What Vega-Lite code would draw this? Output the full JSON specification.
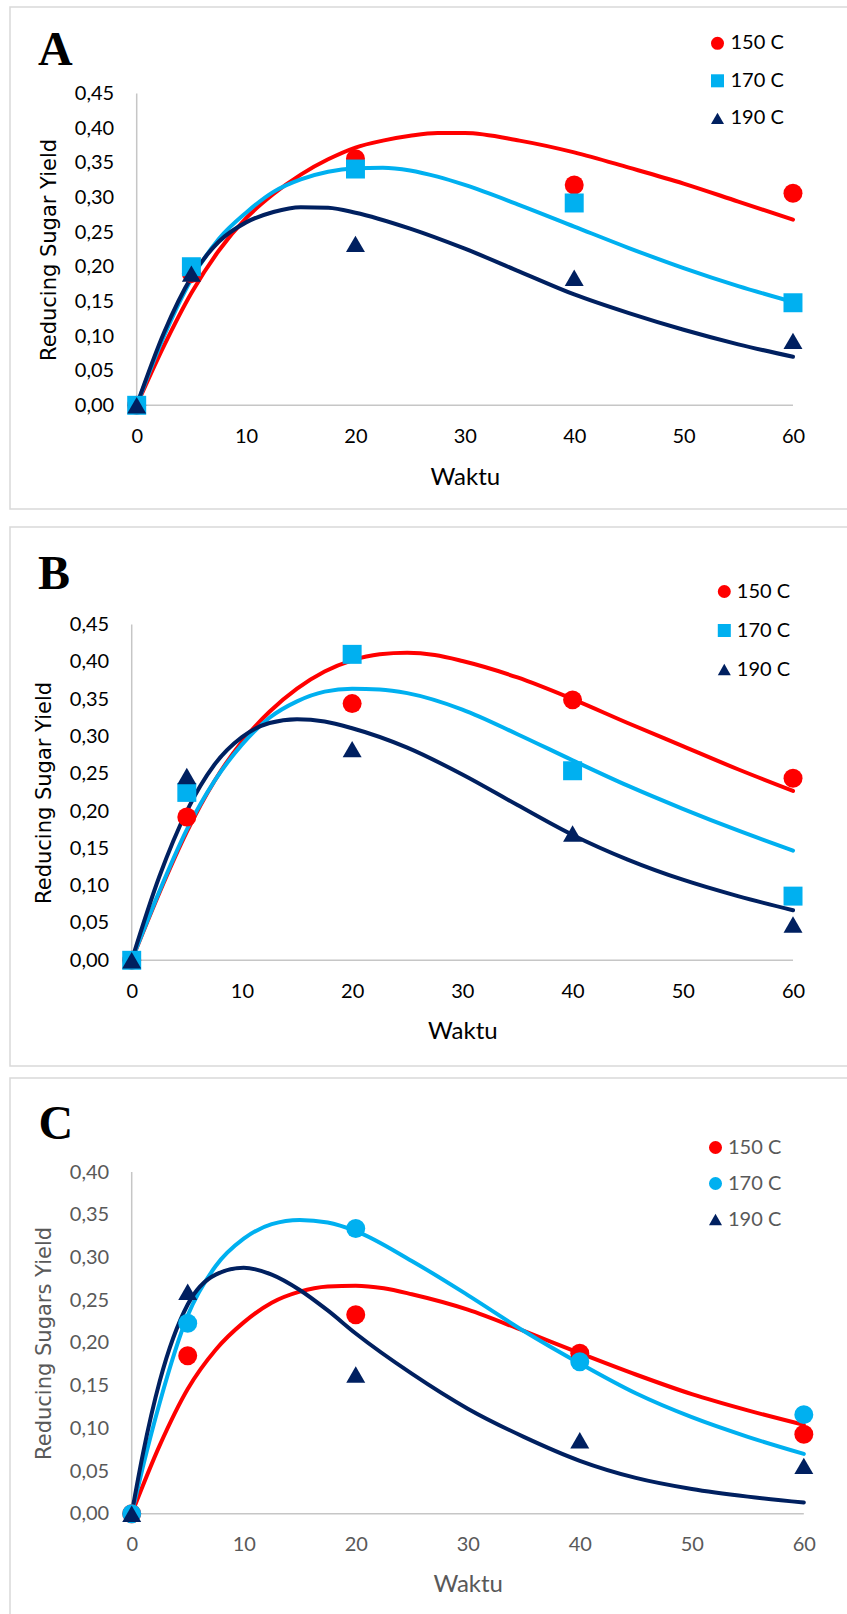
{
  "$schema": "https://vega.github.io/schema/vega-lite/v6.json",
  "padding": {"left": 9, "top": 6, "right": 0, "bottom": 0},
  "background": "white",
  "config": {
    "view": {"stroke": "#D9D9D9", "strokeWidth": 1.5},
    "axis": {"grid": false, "domain": false, "ticks": false, "labelFlush": false, "labelOverlap": false, "labelBound": false, "labelFont": "Lato", "labelFontSize": 20, "titleFontWeight": "normal"}
  },
  "datasets": {
    "pointsA": [
      {"series": "150 C", "x": 0, "y": 0}, {"series": "150 C", "x": 5, "y": 0.19}, {"series": "150 C", "x": 20, "y": 0.356}, {"series": "150 C", "x": 40, "y": 0.318}, {"series": "150 C", "x": 60, "y": 0.306},
      {"series": "170 C", "x": 0, "y": 0}, {"series": "170 C", "x": 5, "y": 0.2}, {"series": "170 C", "x": 20, "y": 0.341}, {"series": "170 C", "x": 40, "y": 0.292}, {"series": "170 C", "x": 60, "y": 0.148},
      {"series": "190 C", "x": 0, "y": 0}, {"series": "190 C", "x": 5, "y": 0.19}, {"series": "190 C", "x": 20, "y": 0.233}, {"series": "190 C", "x": 40, "y": 0.184}, {"series": "190 C", "x": 60, "y": 0.093}
    ],
    "curvesA": [
      {"series": "150 C", "x": 0, "y": 0}, {"series": "150 C", "x": 2.5, "y": 0.086}, {"series": "150 C", "x": 5, "y": 0.162}, {"series": "150 C", "x": 7.5, "y": 0.223}, {"series": "150 C", "x": 10, "y": 0.27}, {"series": "150 C", "x": 12.5, "y": 0.305}, {"series": "150 C", "x": 15, "y": 0.333}, {"series": "150 C", "x": 17.5, "y": 0.355}, {"series": "150 C", "x": 20, "y": 0.372}, {"series": "150 C", "x": 22.5, "y": 0.382}, {"series": "150 C", "x": 25, "y": 0.389}, {"series": "150 C", "x": 27.5, "y": 0.393}, {"series": "150 C", "x": 30, "y": 0.393}, {"series": "150 C", "x": 35, "y": 0.382}, {"series": "150 C", "x": 40, "y": 0.365}, {"series": "150 C", "x": 45, "y": 0.343}, {"series": "150 C", "x": 50, "y": 0.32}, {"series": "150 C", "x": 55, "y": 0.294}, {"series": "150 C", "x": 60, "y": 0.268},
      {"series": "170 C", "x": 0, "y": 0}, {"series": "170 C", "x": 2.5, "y": 0.1}, {"series": "170 C", "x": 5, "y": 0.182}, {"series": "170 C", "x": 7.5, "y": 0.24}, {"series": "170 C", "x": 10, "y": 0.278}, {"series": "170 C", "x": 12.5, "y": 0.308}, {"series": "170 C", "x": 15, "y": 0.326}, {"series": "170 C", "x": 17.5, "y": 0.337}, {"series": "170 C", "x": 20, "y": 0.342}, {"series": "170 C", "x": 22.5, "y": 0.343}, {"series": "170 C", "x": 25, "y": 0.339}, {"series": "170 C", "x": 27.5, "y": 0.33}, {"series": "170 C", "x": 30, "y": 0.318}, {"series": "170 C", "x": 35, "y": 0.289}, {"series": "170 C", "x": 40, "y": 0.258}, {"series": "170 C", "x": 45, "y": 0.227}, {"series": "170 C", "x": 50, "y": 0.198}, {"series": "170 C", "x": 55, "y": 0.172}, {"series": "170 C", "x": 60, "y": 0.149},
      {"series": "190 C", "x": 0, "y": 0}, {"series": "190 C", "x": 2.5, "y": 0.105}, {"series": "190 C", "x": 5, "y": 0.185}, {"series": "190 C", "x": 7.5, "y": 0.236}, {"series": "190 C", "x": 10, "y": 0.264}, {"series": "190 C", "x": 12.5, "y": 0.279}, {"series": "190 C", "x": 15, "y": 0.286}, {"series": "190 C", "x": 17.5, "y": 0.285}, {"series": "190 C", "x": 20, "y": 0.278}, {"series": "190 C", "x": 25, "y": 0.255}, {"series": "190 C", "x": 30, "y": 0.226}, {"series": "190 C", "x": 35, "y": 0.193}, {"series": "190 C", "x": 40, "y": 0.16}, {"series": "190 C", "x": 45, "y": 0.133}, {"series": "190 C", "x": 50, "y": 0.109}, {"series": "190 C", "x": 55, "y": 0.088}, {"series": "190 C", "x": 60, "y": 0.07}
    ],
    "pointsB": [
      {"series": "150 C", "x": 0, "y": 0}, {"series": "150 C", "x": 5, "y": 0.192}, {"series": "150 C", "x": 20, "y": 0.344}, {"series": "150 C", "x": 40, "y": 0.349}, {"series": "150 C", "x": 60, "y": 0.244},
      {"series": "170 C", "x": 0, "y": 0}, {"series": "170 C", "x": 5, "y": 0.225}, {"series": "170 C", "x": 20, "y": 0.41}, {"series": "170 C", "x": 40, "y": 0.254}, {"series": "170 C", "x": 60, "y": 0.086},
      {"series": "190 C", "x": 0, "y": 0}, {"series": "190 C", "x": 5, "y": 0.247}, {"series": "190 C", "x": 20, "y": 0.283}, {"series": "190 C", "x": 40, "y": 0.17}, {"series": "190 C", "x": 60, "y": 0.048}
    ],
    "curvesB": [
      {"series": "150 C", "x": 0, "y": 0}, {"series": "150 C", "x": 2.5, "y": 0.09}, {"series": "150 C", "x": 5, "y": 0.172}, {"series": "150 C", "x": 7.5, "y": 0.24}, {"series": "150 C", "x": 10, "y": 0.293}, {"series": "150 C", "x": 12.5, "y": 0.333}, {"series": "150 C", "x": 15, "y": 0.364}, {"series": "150 C", "x": 17.5, "y": 0.387}, {"series": "150 C", "x": 20, "y": 0.402}, {"series": "150 C", "x": 22.5, "y": 0.41}, {"series": "150 C", "x": 25, "y": 0.412}, {"series": "150 C", "x": 27.5, "y": 0.409}, {"series": "150 C", "x": 30, "y": 0.401}, {"series": "150 C", "x": 35, "y": 0.379}, {"series": "150 C", "x": 40, "y": 0.35}, {"series": "150 C", "x": 45, "y": 0.318}, {"series": "150 C", "x": 50, "y": 0.287}, {"series": "150 C", "x": 55, "y": 0.256}, {"series": "150 C", "x": 60, "y": 0.227},
      {"series": "170 C", "x": 0, "y": 0}, {"series": "170 C", "x": 2.5, "y": 0.092}, {"series": "170 C", "x": 5, "y": 0.175}, {"series": "170 C", "x": 7.5, "y": 0.24}, {"series": "170 C", "x": 10, "y": 0.289}, {"series": "170 C", "x": 12.5, "y": 0.325}, {"series": "170 C", "x": 15, "y": 0.347}, {"series": "170 C", "x": 17.5, "y": 0.36}, {"series": "170 C", "x": 20, "y": 0.364}, {"series": "170 C", "x": 22.5, "y": 0.363}, {"series": "170 C", "x": 25, "y": 0.358}, {"series": "170 C", "x": 30, "y": 0.336}, {"series": "170 C", "x": 35, "y": 0.303}, {"series": "170 C", "x": 40, "y": 0.268}, {"series": "170 C", "x": 45, "y": 0.234}, {"series": "170 C", "x": 50, "y": 0.203}, {"series": "170 C", "x": 55, "y": 0.174}, {"series": "170 C", "x": 60, "y": 0.147},
      {"series": "190 C", "x": 0, "y": 0}, {"series": "190 C", "x": 2.5, "y": 0.112}, {"series": "190 C", "x": 5, "y": 0.2}, {"series": "190 C", "x": 7.5, "y": 0.262}, {"series": "190 C", "x": 10, "y": 0.299}, {"series": "190 C", "x": 12.5, "y": 0.318}, {"series": "190 C", "x": 15, "y": 0.323}, {"series": "190 C", "x": 17.5, "y": 0.32}, {"series": "190 C", "x": 20, "y": 0.311}, {"series": "190 C", "x": 25, "y": 0.285}, {"series": "190 C", "x": 30, "y": 0.249}, {"series": "190 C", "x": 35, "y": 0.208}, {"series": "190 C", "x": 40, "y": 0.168}, {"series": "190 C", "x": 45, "y": 0.135}, {"series": "190 C", "x": 50, "y": 0.108}, {"series": "190 C", "x": 55, "y": 0.086}, {"series": "190 C", "x": 60, "y": 0.067}
    ],
    "pointsC": [
      {"series": "150 C", "x": 0, "y": 0}, {"series": "150 C", "x": 5, "y": 0.185}, {"series": "150 C", "x": 20, "y": 0.233}, {"series": "150 C", "x": 40, "y": 0.188}, {"series": "150 C", "x": 60, "y": 0.093},
      {"series": "170 C", "x": 0, "y": 0}, {"series": "170 C", "x": 5, "y": 0.223}, {"series": "170 C", "x": 20, "y": 0.334}, {"series": "170 C", "x": 40, "y": 0.178}, {"series": "170 C", "x": 60, "y": 0.116},
      {"series": "190 C", "x": 0, "y": 0}, {"series": "190 C", "x": 5, "y": 0.26}, {"series": "190 C", "x": 20, "y": 0.163}, {"series": "190 C", "x": 40, "y": 0.086}, {"series": "190 C", "x": 60, "y": 0.056}
    ],
    "curvesC": [
      {"series": "150 C", "x": 0, "y": 0}, {"series": "150 C", "x": 2.5, "y": 0.08}, {"series": "150 C", "x": 5, "y": 0.146}, {"series": "150 C", "x": 7.5, "y": 0.192}, {"series": "150 C", "x": 10, "y": 0.224}, {"series": "150 C", "x": 12.5, "y": 0.247}, {"series": "150 C", "x": 15, "y": 0.26}, {"series": "150 C", "x": 17.5, "y": 0.266}, {"series": "150 C", "x": 20, "y": 0.267}, {"series": "150 C", "x": 22.5, "y": 0.264}, {"series": "150 C", "x": 25, "y": 0.257}, {"series": "150 C", "x": 30, "y": 0.239}, {"series": "150 C", "x": 35, "y": 0.214}, {"series": "150 C", "x": 40, "y": 0.188}, {"series": "150 C", "x": 45, "y": 0.163}, {"series": "150 C", "x": 50, "y": 0.14}, {"series": "150 C", "x": 55, "y": 0.121}, {"series": "150 C", "x": 60, "y": 0.104},
      {"series": "170 C", "x": 0, "y": 0}, {"series": "170 C", "x": 1, "y": 0.055}, {"series": "170 C", "x": 2.5, "y": 0.13}, {"series": "170 C", "x": 5, "y": 0.232}, {"series": "170 C", "x": 7.5, "y": 0.29}, {"series": "170 C", "x": 10, "y": 0.322}, {"series": "170 C", "x": 12.5, "y": 0.339}, {"series": "170 C", "x": 15, "y": 0.344}, {"series": "170 C", "x": 17.5, "y": 0.341}, {"series": "170 C", "x": 20, "y": 0.331}, {"series": "170 C", "x": 25, "y": 0.296}, {"series": "170 C", "x": 30, "y": 0.256}, {"series": "170 C", "x": 35, "y": 0.214}, {"series": "170 C", "x": 40, "y": 0.176}, {"series": "170 C", "x": 45, "y": 0.141}, {"series": "170 C", "x": 50, "y": 0.113}, {"series": "170 C", "x": 55, "y": 0.09}, {"series": "170 C", "x": 60, "y": 0.07},
      {"series": "190 C", "x": 0, "y": 0}, {"series": "190 C", "x": 1, "y": 0.07}, {"series": "190 C", "x": 2.5, "y": 0.155}, {"series": "190 C", "x": 5, "y": 0.245}, {"series": "190 C", "x": 7.5, "y": 0.28}, {"series": "190 C", "x": 10, "y": 0.288}, {"series": "190 C", "x": 12.5, "y": 0.28}, {"series": "190 C", "x": 15, "y": 0.262}, {"series": "190 C", "x": 17.5, "y": 0.238}, {"series": "190 C", "x": 20, "y": 0.211}, {"series": "190 C", "x": 25, "y": 0.164}, {"series": "190 C", "x": 30, "y": 0.123}, {"series": "190 C", "x": 35, "y": 0.09}, {"series": "190 C", "x": 40, "y": 0.062}, {"series": "190 C", "x": 45, "y": 0.042}, {"series": "190 C", "x": 50, "y": 0.029}, {"series": "190 C", "x": 55, "y": 0.02}, {"series": "190 C", "x": 60, "y": 0.013}
    ]
  },
  "resolve": {"scale": {"x": "independent", "y": "independent", "color": "independent", "shape": "independent", "stroke": "independent"}},
  "spacing": 10,
  "vconcat": [
    {
      "resolve": {"scale": {"x": "independent", "y": "independent", "color": "independent", "shape": "independent", "stroke": "independent"}},
      "spacing": 16,
      "vconcat": [
        {
          "width": 838, "height": 502,
          "layer": [
            {"data": {"values": [{"x": 0, "y": 0, "y2": 0.45}]}, "mark": {"type": "rule", "color": "#C6C6C6", "strokeWidth": 1.5},
              "encoding": {"x": {"field": "x", "type": "quantitative"}, "y": {"field": "y", "type": "quantitative"}, "y2": {"field": "y2"}}},
            {"data": {"values": [{"x": 0, "x2": 60, "y": 0}]}, "mark": {"type": "rule", "color": "#C6C6C6", "strokeWidth": 1.5},
              "encoding": {"x": {"field": "x", "type": "quantitative"}, "y": {"field": "y", "type": "quantitative"}, "x2": {"field": "x2"}}},
            {"data": {"values": [{"panel": "A"}]}, "mark": {"type": "text", "align": "left", "baseline": "alphabetic", "font": "Liberation Serif", "fontWeight": "bold", "fontSize": 48, "fill": "#000000"},
              "encoding": {"x": {"datum": -9.023, "type": "quantitative"}, "y": {"datum": 0.49113, "type": "quantitative"}, "text": {"field": "panel", "type": "nominal"}}},
            {"data": {"name": "curvesA"}, "mark": {"type": "line", "interpolate": "monotone", "strokeCap": "round", "strokeWidth": 4},
              "encoding": {
                "x": {"field": "x", "type": "quantitative", "scale": {"domain": [-11.583, 65.03], "nice": false, "zero": false},
                  "axis": {"values": [0, 10, 20, 30, 40, 50, 60], "offset": -103.7, "labelPadding": 31, "labelBaseline": "middle", "labelColor": "#000000", "title": "Waktu", "titleX": 454.9, "titleY": 79, "titleBaseline": "alphabetic", "titleAlign": "center", "titleFont": "Lato", "titleFontSize": 24, "titleColor": "#000000"}},
                "y": {"field": "y", "type": "quantitative", "scale": {"domain": [-0.14966, 0.57484], "nice": false, "zero": false},
                  "axis": {"values": [0, 0.05, 0.1, 0.15, 0.2, 0.25, 0.3, 0.35, 0.4, 0.45], "offset": -126.7, "labelPadding": 23, "labelColor": "#000000", "labelExpr": "replace(format(datum.value, '.2f'), '.', ',')", "title": "Reducing Sugar Yield", "titleX": -87, "titleY": 242.4, "titleAngle": -90, "titleBaseline": "middle", "titleAlign": "center", "titleFont": "DejaVu Sans", "titleFontSize": 21, "titleColor": "#000000"}},
                "stroke": {"field": "series", "type": "nominal", "scale": {"range": ["#FF0000", "#00B0F0", "#002060"]}, "legend": null}
              }},
            {"data": {"name": "pointsA"}, "mark": {"type": "point", "filled": true, "size": 360, "opacity": 1, "strokeWidth": 0},
              "encoding": {
                "x": {"field": "x", "type": "quantitative"},
                "y": {"field": "y", "type": "quantitative"},
                "color": {"field": "series", "type": "nominal", "scale": {"domain": ["150 C", "170 C", "190 C"], "range": ["#FF0000", "#00B0F0", "#002060"]},
                  "legend": {"orient": "none", "legendX": 697.5, "legendY": 26.3, "title": null, "labelFont": "Lato", "labelFontSize": 20, "labelColor": "#000000", "symbolSize": 170, "symbolStrokeWidth": 0, "symbolOpacity": 1, "rowPadding": 17.5, "labelOffset": 3, "padding": 0}},
                "shape": {"field": "series", "type": "nominal", "scale": {"domain": ["150 C", "170 C", "190 C"], "range": ["circle", "square", "triangle-up"]},
                  "legend": {"orient": "none", "legendX": 697.5, "legendY": 26.3, "title": null, "labelFont": "Lato", "labelFontSize": 20, "labelColor": "#000000", "symbolSize": 170, "symbolStrokeWidth": 0, "symbolOpacity": 1, "rowPadding": 17.5, "labelOffset": 3, "padding": 0}}
              }}
          ]
        },
        {
          "width": 838, "height": 539,
          "layer": [
            {"data": {"values": [{"x": 0, "y": 0, "y2": 0.45}]}, "mark": {"type": "rule", "color": "#C6C6C6", "strokeWidth": 1.5},
              "encoding": {"x": {"field": "x", "type": "quantitative"}, "y": {"field": "y", "type": "quantitative"}, "y2": {"field": "y2"}}},
            {"data": {"values": [{"x": 0, "x2": 60, "y": 0}]}, "mark": {"type": "rule", "color": "#C6C6C6", "strokeWidth": 1.5},
              "encoding": {"x": {"field": "x", "type": "quantitative"}, "y": {"field": "y", "type": "quantitative"}, "x2": {"field": "x2"}}},
            {"data": {"values": [{"panel": "B"}]}, "mark": {"type": "text", "align": "left", "baseline": "alphabetic", "font": "Liberation Serif", "fontWeight": "bold", "fontSize": 48, "fill": "#000000"},
              "encoding": {"x": {"datum": -8.502, "type": "quantitative"}, "y": {"datum": 0.49784, "type": "quantitative"}, "text": {"field": "panel", "type": "nominal"}}},
            {"data": {"name": "curvesB"}, "mark": {"type": "line", "interpolate": "monotone", "strokeCap": "round", "strokeWidth": 4},
              "encoding": {
                "x": {"field": "x", "type": "quantitative", "scale": {"domain": [-11.042, 64.988], "nice": false, "zero": false},
                  "axis": {"values": [0, 10, 20, 30, 40, 50, 60], "offset": -105.7, "labelPadding": 31, "labelBaseline": "middle", "labelColor": "#000000", "title": "Waktu", "titleX": 452.4, "titleY": 78, "titleBaseline": "alphabetic", "titleAlign": "center", "titleFont": "Lato", "titleFontSize": 24, "titleColor": "#000000"}},
                "y": {"field": "y", "type": "quantitative", "scale": {"domain": [-0.14165, 0.58066], "nice": false, "zero": false},
                  "axis": {"values": [0, 0.05, 0.1, 0.15, 0.2, 0.25, 0.3, 0.35, 0.4, 0.45], "offset": -121.7, "labelPadding": 23, "labelColor": "#000000", "labelExpr": "replace(format(datum.value, '.2f'), '.', ',')", "title": "Reducing Sugar Yield", "titleX": -87.5, "titleY": 265.4, "titleAngle": -90, "titleBaseline": "middle", "titleAlign": "center", "titleFont": "DejaVu Sans", "titleFontSize": 21, "titleColor": "#000000"}},
                "stroke": {"field": "series", "type": "nominal", "scale": {"range": ["#FF0000", "#00B0F0", "#002060"]}, "legend": null}
              }},
            {"data": {"name": "pointsB"}, "mark": {"type": "point", "filled": true, "size": 360, "opacity": 1, "strokeWidth": 0},
              "encoding": {
                "x": {"field": "x", "type": "quantitative"},
                "y": {"field": "y", "type": "quantitative"},
                "color": {"field": "series", "type": "nominal", "scale": {"domain": ["150 C", "170 C", "190 C"], "range": ["#FF0000", "#00B0F0", "#002060"]},
                  "legend": {"orient": "none", "legendX": 704.3, "legendY": 54.5, "title": null, "labelFont": "Lato", "labelFontSize": 20, "labelColor": "#000000", "symbolSize": 170, "symbolStrokeWidth": 0, "symbolOpacity": 1, "rowPadding": 19, "labelOffset": 2.5, "padding": 0}},
                "shape": {"field": "series", "type": "nominal", "scale": {"domain": ["150 C", "170 C", "190 C"], "range": ["circle", "square", "triangle-up"]},
                  "legend": {"orient": "none", "legendX": 704.3, "legendY": 54.5, "title": null, "labelFont": "Lato", "labelFontSize": 20, "labelColor": "#000000", "symbolSize": 170, "symbolStrokeWidth": 0, "symbolOpacity": 1, "rowPadding": 19, "labelOffset": 2.5, "padding": 0}}
              }}
          ]
        }
      ]
    },
    {
      "width": 838, "height": 541,
      "layer": [
        {"data": {"values": [{"x": 0, "y": 0, "y2": 0.4}]}, "mark": {"type": "rule", "color": "#C6C6C6", "strokeWidth": 1.5},
          "encoding": {"x": {"field": "x", "type": "quantitative"}, "y": {"field": "y", "type": "quantitative"}, "y2": {"field": "y2"}}},
        {"data": {"values": [{"x": 0, "x2": 60, "y": 0}]}, "mark": {"type": "rule", "color": "#C6C6C6", "strokeWidth": 1.5},
          "encoding": {"x": {"field": "x", "type": "quantitative"}, "y": {"field": "y", "type": "quantitative"}, "x2": {"field": "x2"}}},
        {"data": {"values": [{"panel": "C"}]}, "mark": {"type": "text", "align": "left", "baseline": "alphabetic", "font": "Liberation Serif", "fontWeight": "bold", "fontSize": 48, "fill": "#000000"},
          "encoding": {"x": {"datum": -8.32, "type": "quantitative"}, "y": {"datum": 0.43818, "type": "quantitative"}, "text": {"field": "panel", "type": "nominal"}}},
        {"data": {"name": "curvesC"}, "mark": {"type": "line", "interpolate": "monotone", "strokeCap": "round", "strokeWidth": 4},
          "encoding": {
            "x": {"field": "x", "type": "quantitative", "scale": {"domain": [-10.864, 63.944], "nice": false, "zero": false},
              "axis": {"values": [0, 10, 20, 30, 40, 50, 60], "offset": -105.3, "labelPadding": 31, "labelBaseline": "middle", "labelColor": "#595959", "title": "Waktu", "titleX": 457.7, "titleY": 77.5, "titleBaseline": "alphabetic", "titleAlign": "center", "titleFont": "Lato", "titleFontSize": 24, "titleColor": "#595959"}},
            "y": {"field": "y", "type": "quantitative", "scale": {"domain": [-0.1233, 0.51019], "nice": false, "zero": false},
              "axis": {"values": [0, 0.05, 0.1, 0.15, 0.2, 0.25, 0.3, 0.35, 0.4], "offset": -121.7, "labelPadding": 23, "labelColor": "#595959", "labelExpr": "replace(format(datum.value, '.2f'), '.', ',')", "title": "Reducing Sugars Yield", "titleX": -87.5, "titleY": 264.9, "titleAngle": -90, "titleBaseline": "middle", "titleAlign": "center", "titleFont": "DejaVu Sans", "titleFontSize": 21, "titleColor": "#595959"}},
            "stroke": {"field": "series", "type": "nominal", "scale": {"range": ["#FF0000", "#00B0F0", "#002060"]}, "legend": null}
          }},
        {"data": {"name": "pointsC"}, "mark": {"type": "point", "filled": true, "size": 360, "opacity": 1, "strokeWidth": 0},
          "encoding": {
            "x": {"field": "x", "type": "quantitative"},
            "y": {"field": "y", "type": "quantitative"},
            "color": {"field": "series", "type": "nominal", "scale": {"domain": ["150 C", "170 C", "190 C"], "range": ["#FF0000", "#00B0F0", "#002060"]},
              "legend": {"orient": "none", "legendX": 695.5, "legendY": 59.5, "title": null, "labelFont": "Lato", "labelFontSize": 20, "labelColor": "#595959", "symbolSize": 170, "symbolStrokeWidth": 0, "symbolOpacity": 1, "rowPadding": 16, "labelOffset": 2.5, "padding": 0}},
            "shape": {"field": "series", "type": "nominal", "scale": {"domain": ["150 C", "170 C", "190 C"], "range": ["circle", "circle", "triangle-up"]},
              "legend": {"orient": "none", "legendX": 695.5, "legendY": 59.5, "title": null, "labelFont": "Lato", "labelFontSize": 20, "labelColor": "#595959", "symbolSize": 170, "symbolStrokeWidth": 0, "symbolOpacity": 1, "rowPadding": 16, "labelOffset": 2.5, "padding": 0}}
          }}
      ]
    }
  ]
}
